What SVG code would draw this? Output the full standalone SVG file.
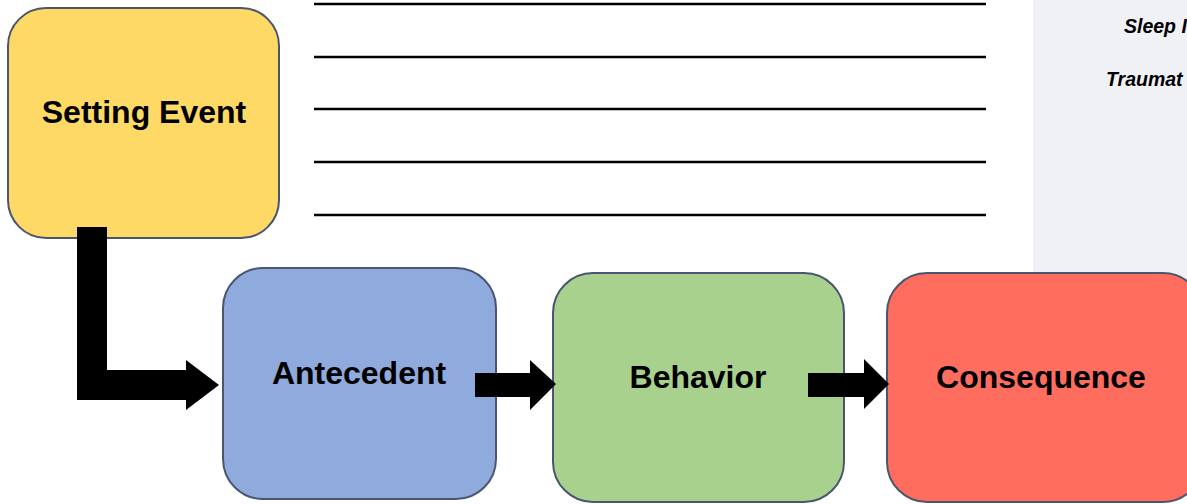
<svg xmlns="http://www.w3.org/2000/svg" width="1187" height="504" viewBox="0 0 1187 504">
<style>
.box{stroke:#4a5670;stroke-width:2}
.lbl{font-family:"Liberation Sans",Arial,sans-serif;font-weight:bold;font-size:32px;fill:#000;text-anchor:middle}
.side{font-family:"Liberation Sans",Arial,sans-serif;font-weight:bold;font-style:italic;font-size:19.5px;fill:#000}
.rule{stroke:#000;stroke-width:2.5}
.arrow{fill:#000}
</style>
<rect x="0" y="0" width="1187" height="504" fill="#fff"/>
<rect x="1033" y="0" width="160" height="290" fill="#f0f1f5"/>
<g id="side-text">
<text class="side" x="1124" y="33">Sleep I</text>
<text class="side" x="1106" y="86">Traumat</text>
</g>
<g id="rules">
<line class="rule" x1="314" y1="4" x2="986" y2="4"/>
<line class="rule" x1="314" y1="57" x2="986" y2="57"/>
<line class="rule" x1="314" y1="109" x2="986" y2="109"/>
<line class="rule" x1="314" y1="162" x2="986" y2="162"/>
<line class="rule" x1="314" y1="215" x2="986" y2="215"/>
</g>
<g id="setting-event">
<rect class="box" x="8" y="8" width="271" height="230" rx="38" fill="#ffd966"/>
<text class="lbl" x="144" y="123">Setting Event</text>
</g>
<g id="antecedent">
<rect class="box" x="223" y="268" width="273" height="231" rx="40" fill="#8faadc"/>
<text class="lbl" x="359" y="384">Antecedent</text>
</g>
<g id="behavior">
<rect class="box" x="553" y="273" width="291" height="229" rx="40" fill="#a9d18e"/>
<text class="lbl" x="698" y="388">Behavior</text>
</g>
<g id="consequence">
<rect class="box" x="887" y="273" width="316" height="229" rx="40" fill="#ff6d5e"/>
<text class="lbl" x="1041" y="388">Consequence</text>
</g>
<g id="connectors">
<polygon class="arrow" points="77,227 107,227 107,370 186,370 186,360 219,385 186,410 186,400 77,400"/>
<polygon class="arrow" points="475,373 530,373 530,360 556,384 530,410 530,397 475,397"/>
<polygon class="arrow" points="808,373 864,373 864,359 889,384 864,409 864,397 808,397"/>
</g>
</svg>
